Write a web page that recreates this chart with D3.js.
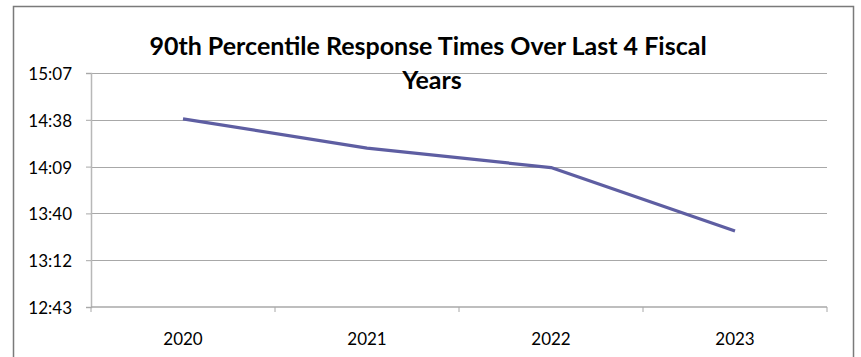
<!DOCTYPE html>
<html>
<head>
<meta charset="utf-8">
<script src="https://cdn.jsdelivr.net/npm/d3@7"></script>
<style>
  html, body { margin: 0; padding: 0; background: #fff; }
  svg { display: block; font-family: Lato, "Open Sans", sans-serif; }
</style>
</head>
<body>
<svg id="chart" width="861" height="357"></svg>
<script>
// Fiscal years on the category axis
const years = ["2020", "2021", "2022", "2023"];
// 90th percentile response time per year (mm:ss)
const responseTimes = ["14:39", "14:21", "14:09", "13:30"];
// Value-axis ticks, in seconds (12:43.2 up to 15:07.2 in 28.8 s steps)
const yTickSeconds = [763.2, 792, 820.8, 849.6, 878.4, 907.2];
const titleLines = ["90th Percentile Response Times Over Last 4 Fiscal", "Years"];

const toSeconds = s => { const [m, sec] = s.split(":").map(Number); return m * 60 + sec; };
const fmt = v => { const t = Math.floor(v + 1e-6); const m = Math.floor(t / 60), s = t % 60; return m + ":" + String(s).padStart(2, "0"); };

const svg = d3.select("#chart");
const plot = { left: 91, right: 827, top: 73, bottom: 307 };

// Outer chart frame (continues below the visible area)
svg.append("rect")
  .attr("x", 13.5).attr("y", 6.5)
  .attr("width", 840).attr("height", 420)
  .attr("fill", "#fff").attr("stroke", "#7a7a7a").attr("stroke-width", 1.5);

const x = d3.scaleBand().domain(years).range([plot.left, plot.right]).padding(0);
const y = d3.scaleLinear().domain([yTickSeconds[0], yTickSeconds[yTickSeconds.length - 1]])
  .range([plot.bottom, plot.top]);

// Horizontal gridlines
svg.append("g")
  .selectAll("line")
  .data(yTickSeconds.slice(1))
  .join("line")
  .attr("x1", plot.left).attr("x2", plot.right)
  .attr("y1", d => Math.round(y(d)) + 0.5).attr("y2", d => Math.round(y(d)) + 0.5)
  .attr("stroke", "#a8a8a8").attr("stroke-width", 1);

// Value axis
const yAxis = svg.append("g")
  .attr("transform", `translate(${plot.left},0)`)
  .call(d3.axisLeft(y).tickValues(yTickSeconds).tickFormat(fmt).tickSize(5).tickPadding(14));
yAxis.select(".domain").attr("stroke", "#b8b8b8").attr("stroke-width", 1.5);
yAxis.selectAll(".tick line").attr("stroke", "#a8a8a8");
yAxis.selectAll(".tick text")
  .attr("font-size", 17).attr("fill", "#000").attr("dy", "0.38em")
  .style("font-family", "Lato, sans-serif");

// Category axis: ticks sit between categories
const xAxisG = svg.append("g").attr("transform", `translate(0,${plot.bottom})`);
xAxisG.append("line")
  .attr("x1", plot.left).attr("x2", plot.right).attr("y1", 0).attr("y2", 0)
  .attr("stroke", "#a8a8a8").attr("stroke-width", 1.5);
const boundaries = years.map(d => x(d)).concat([x(years[years.length - 1]) + x.bandwidth()]);
xAxisG.selectAll("line.tick")
  .data(boundaries)
  .join("line").attr("class", "tick")
  .attr("x1", d => d).attr("x2", d => d).attr("y1", 0).attr("y2", 5)
  .attr("stroke", "#a8a8a8").attr("stroke-width", 1);
xAxisG.selectAll("text")
  .data(years)
  .join("text")
  .attr("x", d => x(d) + x.bandwidth() / 2)
  .attr("y", 38)
  .attr("text-anchor", "middle")
  .attr("font-size", 17).attr("fill", "#000")
  .text(d => d);

// Response-time line
const line = d3.line()
  .x((d, i) => x(years[i]) + x.bandwidth() / 2)
  .y(d => y(toSeconds(d)));
svg.append("path")
  .datum(responseTimes)
  .attr("d", line)
  .attr("fill", "none")
  .attr("stroke", "#5e5ea2")
  .attr("stroke-width", 3.2)
  .attr("stroke-linejoin", "round");

// Title
svg.append("g")
  .selectAll("text")
  .data(titleLines)
  .join("text")
  .attr("x", (d, i) => i === 0 ? 428 : 432)
  .attr("y", (d, i) => i === 0 ? 55 : 89)
  .attr("text-anchor", "middle")
  .attr("font-size", 25).attr("font-weight", "bold").attr("fill", "#000")
  .text(d => d);
</script>
</body>
</html>
